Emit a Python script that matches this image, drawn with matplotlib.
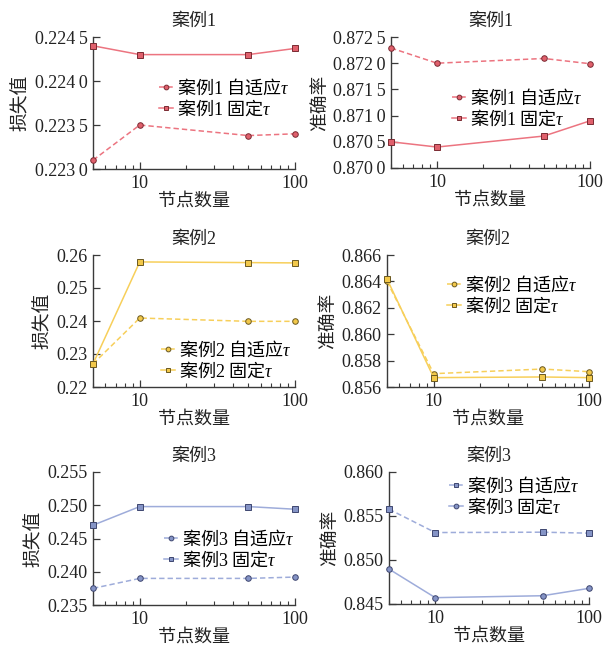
import matplotlib
matplotlib.use("Agg")
import matplotlib.pyplot as plt
from matplotlib.ticker import FixedLocator, FuncFormatter, LogLocator, NullFormatter

plt.rcParams['font.family'] = ['Liberation Serif', 'Noto Sans CJK SC', 'DejaVu Sans']
# math parts (τ and digits in legend labels) use serif fonts
plt.rcParams['mathtext.fontset'] = 'custom'
plt.rcParams['mathtext.rm'] = 'Liberation Serif'
plt.rcParams['mathtext.it'] = 'Liberation Serif:italic'

# 节点数量
nodes = [5, 10, 50, 100]

# 损失值
loss_c1_adapt = [0.22310, 0.22350, 0.22338, 0.22340]
loss_c1_fixed = [0.22440, 0.22430, 0.22430, 0.22437]
loss_c2_adapt = [0.2270, 0.2409, 0.2399, 0.2399]
loss_c2_fixed = [0.2270, 0.2579, 0.2577, 0.2576]
loss_c3_adapt = [0.2375, 0.2390, 0.2390, 0.2392]
loss_c3_fixed = [0.2470, 0.2498, 0.2498, 0.2494]

# 准确率
acc_c1_adapt = [0.87229, 0.87200, 0.87209, 0.87199]
acc_c1_fixed = [0.87050, 0.87040, 0.87061, 0.87090]
acc_c2_adapt = [0.86400, 0.85701, 0.85736, 0.85716]
acc_c2_fixed = [0.86418, 0.85671, 0.85676, 0.85671]
acc_c3_adapt = [0.85577, 0.85312, 0.85316, 0.85305]
acc_c3_fixed = [0.84897, 0.84572, 0.84594, 0.84678]

case_nums = ['1', '2', '3']

red = dict(line='#ec7480', face='#e0606c', edge='#7a2a32')
yellow = dict(line='#f7cf5a', face='#f2c84a', edge='#6a5820')
blue = dict(line='#9eacda', face='#8594c6', edge='#3e4670')

W, H = 606, 654
fig = plt.figure(figsize=(W / 100, H / 100), dpi=100)


def fmt_tick(decimals):
    def f(v, pos):
        s = f"{v:.{decimals}f}"
        if decimals > 3:
            s = s[:5] + '\u2009' + s[5:]
        return s
    return f


def style_axes(ax, ylim, ystep, decimals):
    ax.set_xscale('log')
    ax.set_xlim(5, 100)
    ax.set_ylim(*ylim)
    n = int(round((ylim[1] - ylim[0]) / ystep))
    ax.yaxis.set_major_locator(FixedLocator([ylim[0] + i * ystep for i in range(n + 1)]))
    ax.yaxis.set_major_formatter(FuncFormatter(fmt_tick(decimals)))
    ax.xaxis.set_major_locator(FixedLocator([10, 100]))
    ax.xaxis.set_major_formatter(FuncFormatter(lambda v, p: f"{int(v)}"))
    ax.xaxis.set_minor_locator(LogLocator(base=10, subs=range(2, 10)))
    ax.xaxis.set_minor_formatter(NullFormatter())
    for s in ['top', 'right']:
        ax.spines[s].set_visible(False)
    for s in ['left', 'bottom']:
        ax.spines[s].set_color('#3a3a3a')
        ax.spines[s].set_linewidth(1.0)
    ax.tick_params(axis='both', which='both', direction='in', colors='#3a3a3a',
                   labelcolor='#222222', labelsize=13, pad=4)
    ax.tick_params(axis='both', which='major', length=5, width=0.9)
    ax.tick_params(axis='x', which='minor', length=3, width=0.8)
    ax.set_xlabel('节点数量', fontsize=13, color='#222222', labelpad=1)


def draw(ax, y_adapt, y_fixed, col, num, m_adapt='o', m_fixed='s'):
    ax.plot(nodes, y_adapt, linestyle=(0, (3.5, 2)), color=col['line'], lw=1.1,
            marker=m_adapt, ms=4, mfc=col['face'], mec=col['edge'], mew=0.7,
            clip_on=False, zorder=3, label=f'案例$\\mathrm{{{num}}}$ 自适应$\\tau$')
    ax.plot(nodes, y_fixed, linestyle='-', color=col['line'], lw=1.1,
            marker=m_fixed, ms=4, mfc=col['face'], mec=col['edge'], mew=0.7,
            clip_on=False, zorder=3, label=f'案例$\\mathrm{{{num}}}$ 固定$\\tau$')


def add(px_left, px_right, px_top, px_bottom):
    return fig.add_axes([px_left / W, 1 - px_bottom / H,
                         (px_right - px_left) / W, (px_bottom - px_top) / H])


# axes box in px (left, right, top, bottom), legend top-left in px
boxes = [(93, 295, 37, 169), (391, 590, 37, 168),
         (93, 295, 255, 387), (387, 589, 255, 387),
         (93, 295, 472, 605), (389, 589, 472, 604)]
legend_px = [(159, 77), (452, 87), (161, 339), (447, 274), (164, 528), (449, 475)]

series = [(loss_c1_adapt, loss_c1_fixed), (acc_c1_adapt, acc_c1_fixed),
          (loss_c2_adapt, loss_c2_fixed), (acc_c2_adapt, acc_c2_fixed),
          (loss_c3_adapt, loss_c3_fixed), (acc_c3_adapt, acc_c3_fixed)]
colours = [red, red, yellow, yellow, blue, blue]
ylims = [(0.2230, 0.2245), (0.8700, 0.8725), (0.22, 0.26), (0.856, 0.866),
         (0.235, 0.255), (0.845, 0.860)]
ysteps = [0.0005, 0.0005, 0.01, 0.002, 0.005, 0.005]
ydecimals = [4, 4, 2, 3, 3, 3]
ylabels = ['损失值', '准确率'] * 3

for i in range(6):
    box = boxes[i]
    ax = add(*box)
    style_axes(ax, ylims[i], ysteps[i], ydecimals[i])
    num = case_nums[i // 2]
    ya, yf = series[i]
    if i == 5:
        draw(ax, ya, yf, colours[i], num, m_adapt='s', m_fixed='o')
    else:
        draw(ax, ya, yf, colours[i], num)
    ax.set_title('案例' + num, fontsize=13, color='#222222', pad=8)
    ax.set_ylabel(ylabels[i], fontsize=13.5, color='#222222', labelpad=3)
    lx, ly = legend_px[i]
    anchor = ((lx - box[0]) / (box[1] - box[0]), (box[3] - ly) / (box[3] - box[2]))
    ax.legend(loc='upper left', bbox_to_anchor=anchor, frameon=False,
              prop={'family': 'Noto Sans CJK SC', 'size': 13},
              handlelength=0.8, handletextpad=0.2, labelspacing=0.0,
              borderpad=0, borderaxespad=0, markerscale=0.85)

fig.savefig('out.png', dpi=100)
